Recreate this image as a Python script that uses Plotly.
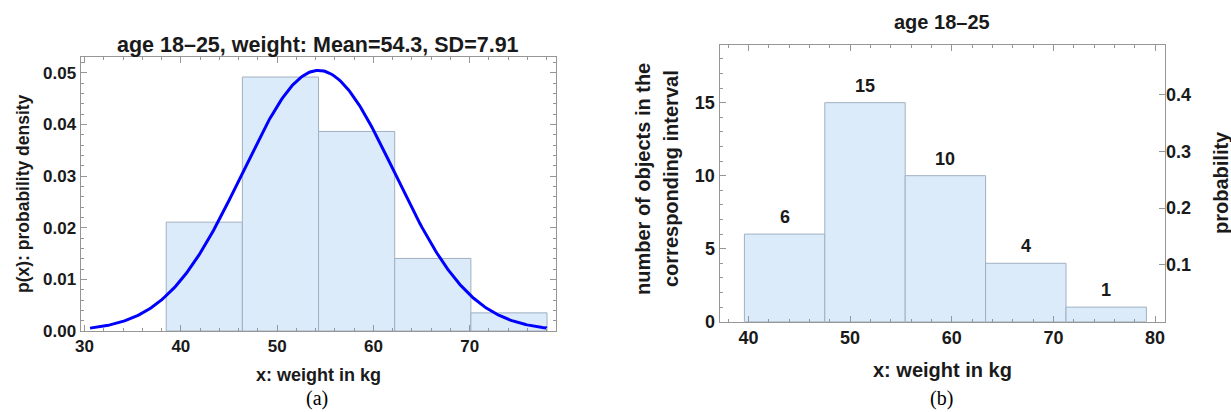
import numpy as np
import plotly.graph_objects as go

# ---------------- data ----------------
# (a) density histogram, bins = mean + k*SD
mean_a = 54.3
sd_a = 7.91
edges_a = [38.48, 46.39, 54.30, 62.21, 70.12, 78.03]
counts_a = [6, 14, 11, 4, 1]

# (b) count histogram
edges_b = [39.60, 47.51, 55.42, 63.33, 71.24, 79.15]
counts_b = [6, 15, 10, 4, 1]
prob_ticks_b = [0.1, 0.2, 0.3, 0.4]
counts_per_unit_prob = 38.9  # right-axis scale

title_a = "age 18\u201325, weight: Mean=54.3, SD=7.91"
title_b = "age 18\u201325"

# ---------------- styling ----------------
W, H = 1231, 412
FILL = "rgb(220,235,250)"
EDGE = "rgb(160,176,192)"
FRAME = "rgb(150,150,150)"
TXT = "#1a1a1a"
SANS = "Liberation Sans, Arial, sans-serif"
SERIF = "Liberation Serif, Times New Roman, serif"


def px_x(p):
    return p / W


def px_y(p):
    return 1 - p / H


N_a = sum(counts_a)
cent_a = [(edges_a[i] + edges_a[i + 1]) / 2 for i in range(len(counts_a))]
wid_a = [edges_a[i + 1] - edges_a[i] for i in range(len(counts_a))]
dens_a = [c / (N_a * w) for c, w in zip(counts_a, wid_a)]

xc = np.linspace(mean_a - 3 * sd_a, mean_a + 3 * sd_a, 300)
yc = np.exp(-0.5 * ((xc - mean_a) / sd_a) ** 2) / (sd_a * np.sqrt(2 * np.pi))

cent_b = [(edges_b[i] + edges_b[i + 1]) / 2 for i in range(len(counts_b))]
wid_b = [edges_b[i + 1] - edges_b[i] for i in range(len(counts_b))]

fig = go.Figure()
fig.add_trace(go.Bar(x=cent_a, y=dens_a, width=wid_a, marker=dict(color=FILL, line=dict(color=EDGE, width=1)),
                     xaxis="x", yaxis="y", hoverinfo="skip", showlegend=False))
fig.add_trace(go.Scatter(x=xc, y=yc, mode="lines", line=dict(color="rgb(0,0,255)", width=3),
                         xaxis="x", yaxis="y", hoverinfo="skip", showlegend=False))
fig.add_trace(go.Bar(x=cent_b, y=counts_b, width=wid_b, marker=dict(color=FILL, line=dict(color=EDGE, width=1)),
                     xaxis="x2", yaxis="y2", hoverinfo="skip", showlegend=False))
fig.add_trace(go.Scatter(x=cent_b, y=[c / counts_per_unit_prob for c in counts_b], mode="markers",
                         marker=dict(opacity=0), xaxis="x2", yaxis="y3", hoverinfo="skip", showlegend=False))

tickfont = dict(family=SANS, size=17, color=TXT, weight="bold")
tickfont_b = dict(family=SANS, size=18, color=TXT, weight="bold")


def ax(**kw):
    d = dict(showline=True, linecolor=FRAME, linewidth=1, ticks="inside", ticklen=6, tickcolor=FRAME,
             tickwidth=1, showgrid=False, zeroline=False, tickfont=tickfont, fixedrange=True,
             automargin=False)
    d.update(kw)
    return d


x0a, x1a, y0a, y1a = 80.5, 556, 57, 331
x0b, x1b, y0b, y1b = 719.5, 1165, 45, 321.7

fig.update_layout(
    width=W, height=H, margin=dict(l=0, r=0, t=0, b=0, autoexpand=False),
    paper_bgcolor="white", plot_bgcolor="white", bargap=0, showlegend=False,
    xaxis=ax(domain=[px_x(x0a), px_x(x1a)], anchor="y", range=[29.58, 78.96], tick0=0, dtick=10, mirror="ticks",
             minor=dict(ticks="inside", ticklen=3, tickcolor=FRAME, dtick=2, tick0=0)),
    yaxis=ax(domain=[px_y(y1a), px_y(y0a)], anchor="x", range=[0, 0.05304], tick0=0, dtick=0.01, tickformat=".2f",
             mirror="ticks", minor=dict(ticks="inside", ticklen=3, tickcolor=FRAME, dtick=0.002, tick0=0)),
    xaxis2=ax(domain=[px_x(x0b), px_x(x1b)], anchor="y2", range=[37.15, 80.98], tick0=0, dtick=10, mirror="ticks",
              tickfont=tickfont_b,
              minor=dict(ticks="inside", ticklen=3, tickcolor=FRAME, dtick=2, tick0=0)),
    yaxis2=ax(domain=[px_y(y1b), px_y(y0b)], anchor="x2", range=[0, 18.95], tick0=0, dtick=5, mirror=True,
              tickfont=tickfont_b,
              minor=dict(ticks="inside", ticklen=3, tickcolor=FRAME, dtick=1, tick0=0)),
    yaxis3=ax(overlaying="y2", anchor="x2", side="right", showline=False,
              range=[0, 18.95 / counts_per_unit_prob], tickvals=prob_ticks_b, tickformat=".1f",
              tickfont=tickfont_b),
)

ann = []


def text(x, y, s, size=18, angle=0, family=SANS, bold=True):
    ann.append(dict(xref="paper", yref="paper", x=px_x(x), y=px_y(y), text=s, showarrow=False,
                    xanchor="center", yanchor="middle", textangle=angle,
                    font=dict(family=family, size=size, color=TXT if bold else "black",
                              weight="bold" if bold else "normal")))


text((x0a + x1a) / 2, 45, title_a, size=21.5)
text((x0b + x1b) / 2, 22, title_b, size=20)
text((x0a + x1a) / 2, 375, "x: weight in kg", size=18)
text((x0b + x1b) / 2, 370, "x: weight in kg", size=20)
text(23, (y0a + y1a) / 2, "p(x): probability density", size=17.5, angle=-90)
text(643, 179, "number of objects in the", size=20, angle=-90)
text(671, 179, "corresponding interval", size=20, angle=-90)
text(1221, 183, "probability", size=20, angle=-90)
text(317, 398, "(a)", size=20, family=SERIF, bold=False)
text(941, 398, "(b)", size=20, family=SERIF, bold=False)

for c, n in zip(cent_b, counts_b):
    ann.append(dict(xref="x2", yref="y2", x=c, y=n, text=str(n), showarrow=False, yshift=17,
                    xanchor="center", yanchor="middle",
                    font=dict(family=SANS, size=18, color=TXT, weight="bold")))

fig.update_layout(annotations=ann)
fig.write_html("out.html", config={"displayModeBar": False, "staticPlot": True},
               post_script="document.body.style.margin='0';document.body.style.padding='0';"
                           "document.body.style.overflow='hidden';")
